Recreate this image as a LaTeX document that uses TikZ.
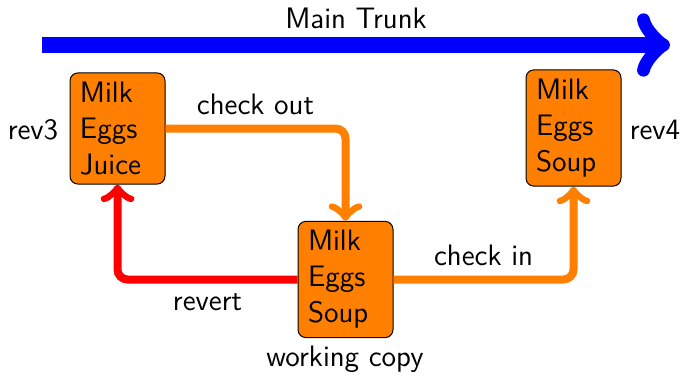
\documentclass[tikz,border=0pt]{standalone}
\usetikzlibrary{arrows.meta}
\begin{document}
\begin{tikzpicture}[x=0.5pt,y=-0.5pt,
  font=\sffamily\fontsize{14.8pt}{18pt}\selectfont,
  item/.style={draw=black, fill=orange, line width=0.5pt, rounded corners=4pt,
    align=left, text width=37.5pt, inner xsep=5pt, inner ysep=4.5pt},
  flow/.style={line width=4pt, rounded corners=5pt,
    -{Classical TikZ Rightarrow[round]}},
  trunk/.style={line width=8pt, blue,
    -{Classical TikZ Rightarrow[round]}},
  lbl/.style={inner sep=2pt, text=black}]
\useasboundingbox (0,0) rectangle (682,375);
\coordinate (ts) at (42,45);
\coordinate (te) at (670,45);
\draw[trunk] (ts) -- (te);
\node[lbl] (mt) at (356,18) {Main Trunk};

\node[item] (rev3) at (117.5,128.5) {Milk\\Eggs\\Juice};
\node[item] (rev4) at (573.5,128) {Milk\\Eggs\\Soup};
\node[item] (wc) at (345.5,279.5) {Milk\\Eggs\\Soup};

\node[lbl] (l3) at (33,130) {rev3};
\node[lbl] (l4) at (655,130) {rev4};
\node[lbl] (lw) at (345,359) {working copy};

\draw[flow, orange] (rev3.east) -| (wc.north)
  node[pos=0.25, above, lbl, yshift=3pt] {check out};
\draw[flow, red] (wc.west) -| (rev3.south)
  node[pos=0.25, below, lbl, yshift=-3pt] {revert};
\draw[flow, orange] (wc.east) -| (rev4.south)
  node[pos=0.25, above, lbl, yshift=3pt] {check in};
\end{tikzpicture}
\end{document}
